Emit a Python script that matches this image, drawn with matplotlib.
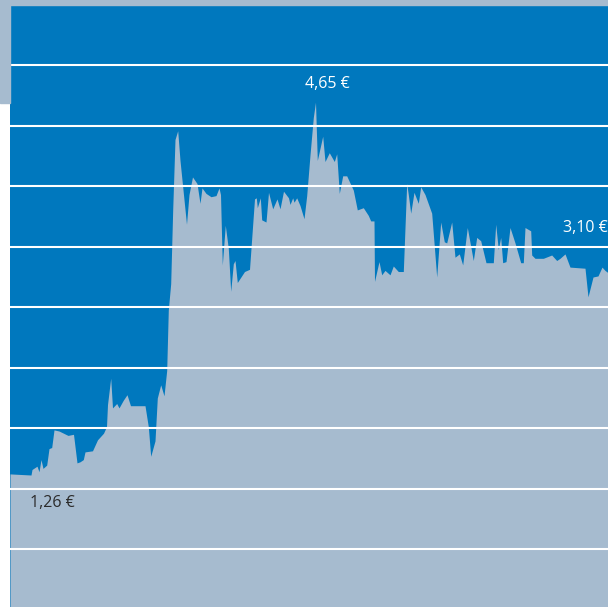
import matplotlib.pyplot as plt
from matplotlib.patches import Rectangle

# trading day index and share price in EUR
day = [0, 21, 22, 27, 29, 31, 33, 36.7, 39, 41.7,
       44, 49, 58, 63.5, 67, 70, 73.3, 75, 82.5, 87.5,
       93.5, 96.5, 97.5, 100.7, 102.5, 106.7, 109, 113.3, 117, 120.5,
       135, 138.3, 140.7, 145, 147.3, 150.7, 154, 156.7, 158.3, 160.7,
       162.7, 165, 167.7, 170, 176.5, 179, 182.5, 187, 190, 192,
       196, 201, 206, 209, 210.5, 212.3, 215.3, 218.3, 220.7, 223.3,
       225, 227.3, 234.5, 239.5, 244.5, 246.3, 247.3, 250.3, 251.7, 256,
       258.5, 262.7, 267, 270, 273.5, 278.5, 280, 282.7, 284, 286.7,
       290, 294, 296.7, 300, 303.3, 305.5, 307.3, 312.7, 315, 319.3,
       324.3, 326.7, 329.3, 332.7, 336.7, 343.3, 347.3, 353.3, 358.3, 360.7,
       364, 364.5, 369, 371.7, 375, 380, 383.3, 388.3, 393.3, 396.7,
       398.3, 400.7, 404, 408.3, 410.7, 415, 421.7, 426.7, 430.7, 434.3,
       436.7, 441.7, 445, 449.3, 452.7, 457.3, 463.3, 466.7, 470.7, 476,
       483.3, 485.7, 488.3, 490.7, 492.7, 496, 500, 505, 510.7, 513.3,
       515, 520.7, 521.7, 525, 533.3, 541.7, 546.7, 550, 555, 560,
       575, 578, 583, 588, 592, 595, 598]
price = [1.27, 1.26, 1.31, 1.34, 1.29, 1.40, 1.32, 1.35, 1.50, 1.51,
         1.67, 1.66, 1.62, 1.63, 1.37, 1.38, 1.40, 1.47, 1.48, 1.58,
         1.64, 1.70, 1.90, 2.14, 1.87, 1.91, 1.87, 1.94, 1.99, 1.89,
         1.89, 1.70, 1.43, 1.57, 1.96, 2.08, 1.98, 2.21, 2.76, 3.00,
         3.67, 4.31, 4.39, 4.12, 3.54, 3.81, 3.97, 3.91, 3.73, 3.87,
         3.82, 3.79, 3.80, 3.87, 3.81, 3.17, 3.53, 3.32, 2.93, 3.18,
         3.21, 3.01, 3.11, 3.13, 3.77, 3.78, 3.69, 3.78, 3.58, 3.56,
         3.83, 3.68, 3.77, 3.68, 3.84, 3.78, 3.72, 3.78, 3.74, 3.78,
         3.71, 3.59, 3.80, 4.17, 4.51, 4.65, 4.12, 4.34, 4.11, 4.19,
         4.11, 4.18, 3.82, 3.98, 3.98, 3.85, 3.67, 3.69, 3.62, 3.57,
         3.57, 3.02, 3.20, 3.08, 3.12, 3.08, 3.16, 3.11, 3.11, 3.91,
         3.81, 3.64, 3.83, 3.73, 3.88, 3.81, 3.64, 3.06, 3.56, 3.38,
         3.37, 3.56, 3.24, 3.27, 3.17, 3.51, 3.21, 3.42, 3.39, 3.19,
         3.19, 3.54, 3.31, 3.42, 3.19, 3.20, 3.51, 3.37, 3.19, 3.19,
         3.51, 3.48, 3.26, 3.23, 3.23, 3.26, 3.21, 3.23, 3.27, 3.15,
         3.14, 2.88, 3.06, 3.07, 3.15, 3.12, 3.10]
grid_levels = [0.585, 1.135, 1.685, 2.235, 2.785, 3.335, 3.885, 4.435, 4.985]
labels = ["1,26 €", "4,65 €", "3,10 €"]

blue = "#0078be"
grey = "#a6bbcf"

fig = plt.figure(figsize=(6.08, 6.07), dpi=100)
fig.patch.set_facecolor("white")
# grey frame bits behind the blue panel
fig.patches.append(Rectangle((0, 1 - 5 / 607), 1, 5 / 607, transform=fig.transFigure,
                             color=grey, zorder=0))
fig.patches.append(Rectangle((0, 1 - 103 / 607), 10 / 608, 103 / 607,
                             transform=fig.transFigure, color=grey, zorder=0))

ax = fig.add_axes([10 / 608, 0, 598 / 608, 602 / 607])
ax.set_facecolor(blue)
ax.fill_between(day, price, 0, color=grey, lw=0, zorder=2)
for g in grid_levels:
    ax.axhline(g, color="white", lw=1.5, zorder=3)

ax.set_xlim(0, 598)
ax.set_ylim(0.06, 5.533)
for s in ax.spines.values():
    s.set_visible(False)
ax.set_xticks([])
ax.set_yticks([])

font = dict(family="Open Sans", fontsize=11.5)
ax.text(42.5, 1.005, labels[0], color="#2b2b2b", ha="center", va="center", **font)
ax.text(317, 4.815, labels[1], color="white", ha="center", va="center", **font)
ax.text(553, 3.505, labels[2], color="white", ha="left", va="center", clip_on=False, **font)

fig.savefig("out.png", dpi=100)
